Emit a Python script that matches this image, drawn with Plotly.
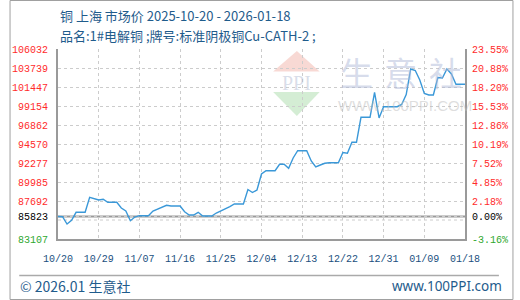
import plotly.graph_objects as go
import pandas as pd

# ---------------- data ----------------
dates = pd.date_range("2025-10-20", "2026-01-18", freq="D").strftime("%Y-%m-%d").tolist()
prices = [
    85823, 85800, 84917, 85350, 86330, 86330, 86330, 88140, 88020, 87810,
    87900, 87535, 87535, 87535, 86850, 86485, 85315, 85760, 85920, 85920,
    85920, 86485, 86727, 86884, 87173, 87089, 87089, 87089, 86401, 86003,
    86003, 86329, 85882, 85882, 85882, 86244, 86485, 86690, 87004, 87330,
    87330, 87330, 89080, 88718, 89019, 90950, 91348, 91348, 91348, 92120,
    92120, 91638, 92880, 93761, 93761, 93761, 92518, 91794, 92036, 92241,
    92313, 92313, 92313, 93544, 93448, 94775, 94775, 97793, 97793, 97793,
    100800, 97707, 99070, 99070, 99070, 99070, 99335, 100540, 103619, 103438,
    102292, 100661, 100480, 100480, 102593, 102533, 103619, 103016, 101773, 101773,
    101773,
]
base_price = 85823

x_tick_dates = ["2025-10-20", "2025-10-29", "2025-11-07", "2025-11-16", "2025-11-25",
                "2025-12-04", "2025-12-13", "2025-12-22", "2025-12-31", "2026-01-09",
                "2026-01-18"]
x_tick_labels = ["10/20", "10/29", "11/07", "11/16", "11/25", "12/04", "12/13",
                 "12/22", "12/31", "01/09", "01/18"]

y_min, y_max = 83107, 106032
y_tick_values = [83107, 85823, 87692, 89984.5, 92277, 94569.5, 96862, 99154.5,
                 101447, 103739.5, 106032]
y_tick_labels = ["83107", "85823", "87692", "89985", "92277", "94570", "96862",
                 "99154", "101447", "103739", "106032"]
pct_tick_labels = ["-3.16%", "0.00%", "2.18%", "4.85%", "7.52%", "10.19%", "12.86%",
                   "15.53%", "18.20%", "20.88%", "23.55%"]
extra_grid_value = 85399.5

title_line1 = "铜 上海 市场价 2025-10-20 - 2026-01-18"
title_line2 = "品名:1#电解铜 ;牌号:标准阴极铜Cu-CATH-2 ;"
footer_left = "© 2026.01 生意社"
footer_right = "www.100PPI.com"

# ---------------- styling helpers ----------------
W, H = 520, 300
PL, PR, PT, PB = 50, 470, 49, 239


def px(x):
    return (x - PL) / (PR - PL)


def py(y):
    return (PB - y) / (PB - PT)


RED = "#ff2b2b"
GREEN = "#2ea82e"
BLUE_TXT = "#1f5c8c"
GRID = "#cccccc"
AXIS = "#9a9a9a"


def colour_label(text, i):
    if i == 0:
        return f"<span style='color:{GREEN}'>{text}</span>"
    if i == 1:
        return f"<span style='color:#000000'>{text}</span>"
    return text


left_text = [colour_label(t, i) for i, t in enumerate(y_tick_labels)]
right_text = [colour_label(t, i) for i, t in enumerate(pct_tick_labels)]

fig = go.Figure()
fig.add_trace(go.Scatter(x=dates, y=prices, mode="lines",
                         line=dict(color="#3a98d8", width=1.4),
                         hoverinfo="skip", showlegend=False))
fig.add_trace(go.Scatter(x=dates, y=prices, mode="lines", yaxis="y2",
                         line=dict(color="rgba(0,0,0,0)", width=0),
                         hoverinfo="skip", showlegend=False))

mono = "Liberation Mono"
cjk = "Noto Sans CJK SC"

fig.update_layout(
    width=W, height=H,
    margin=dict(l=PL, r=W - PR, t=PT, b=H - PB, pad=0),
    paper_bgcolor="white", plot_bgcolor="white",
    xaxis=dict(
        type="date", range=[dates[0], dates[-1]],
        tickmode="array", tickvals=x_tick_dates, ticktext=x_tick_labels,
        showgrid=True, gridcolor=GRID, griddash="3px,3px", gridwidth=1,
        showline=True, linecolor=AXIS, linewidth=2,
        ticks="", ticklabelstandoff=9,
        tickfont=dict(family=mono, size=10, color="#1a4f80"),
        zeroline=False, fixedrange=True,
    ),
    yaxis=dict(
        range=[y_min, y_max],
        tickmode="array", tickvals=y_tick_values, ticktext=left_text,
        showgrid=True, gridcolor=GRID, griddash="3px,3px", gridwidth=1,
        showline=True, linecolor=AXIS, linewidth=2,
        ticks="", ticklabelstandoff=6,
        tickfont=dict(family=mono, size=10, color=RED),
        zeroline=False, fixedrange=True,
    ),
    yaxis2=dict(
        range=[y_min, y_max], overlaying="y", side="right",
        tickmode="array", tickvals=y_tick_values, ticktext=right_text,
        showgrid=False, showline=True, linecolor=AXIS, linewidth=2,
        ticks="", ticklabelstandoff=3,
        tickfont=dict(family=mono, size=10, color=RED),
        zeroline=False, fixedrange=True,
    ),
)

shapes = [
    dict(type="line", xref="paper", yref="y", x0=0, x1=1,
         y0=extra_grid_value, y1=extra_grid_value,
         line=dict(color=GRID, width=1, dash="3px,3px"), layer="below"),
    dict(type="line", xref="paper", yref="y", x0=0, x1=1,
         y0=base_price, y1=base_price,
         line=dict(color=AXIS, width=2), layer="below"),
    dict(type="line", xref="paper", yref="paper", x0=px(10), x1=px(505),
         y0=py(275.5), y1=py(275.5), line=dict(color="#aaaaaa", width=1.5)),
    dict(type="rect", xref="paper", yref="paper", x0=px(0.5), x1=px(519.5),
         y0=py(0.5), y1=py(299.5), line=dict(color="#a0a0a0", width=1)),
    dict(type="path", xref="paper", yref="paper", layer="below",
         path=f"M {px(296.5)} {py(51)} L {px(320)} {py(71.5)} L {px(272)} {py(71.5)} Z",
         fillcolor="rgba(240,170,160,0.45)", line=dict(width=0)),
    dict(type="path", xref="paper", yref="paper", layer="below",
         path=f"M {px(272)} {py(92)} L {px(320)} {py(92)} L {px(296.5)} {py(116)} Z",
         fillcolor="rgba(160,215,160,0.45)", line=dict(width=0)),
]
fig.update_layout(shapes=shapes)

annotations = [
    dict(text=title_line1, x=px(50), y=py(15), xanchor="left", yanchor="middle",
         font=dict(family=cjk, size=13, color=BLUE_TXT)),
    dict(text=title_line2, x=px(50), y=py(35), xanchor="left", yanchor="middle",
         font=dict(family=cjk, size=13, color=BLUE_TXT)),
    dict(text=footer_left, x=px(9), y=py(285.5), xanchor="left", yanchor="middle",
         font=dict(family=cjk, size=14, color=BLUE_TXT)),
    dict(text=footer_right, x=px(510), y=py(285.5), xanchor="right", yanchor="middle",
         font=dict(family="Noto Sans", size=13.5, color=BLUE_TXT)),
    dict(text="PPI", x=px(296), y=py(83), xanchor="center", yanchor="middle",
         font=dict(family="Liberation Serif", size=20, color="rgba(170,180,205,0.45)")),
    dict(text="生", x=px(358.5), y=py(72), xanchor="center", yanchor="middle",
         font=dict(family=cjk, size=33, color="rgba(175,185,215,0.5)")),
    dict(text="意", x=px(403.5), y=py(72), xanchor="center", yanchor="middle",
         font=dict(family=cjk, size=33, color="rgba(175,185,215,0.5)")),
    dict(text="社", x=px(450), y=py(72), xanchor="center", yanchor="middle",
         font=dict(family=cjk, size=33, color="rgba(175,185,215,0.5)")),
    dict(text="WWW.100PPI.COM", x=px(408), y=py(105), xanchor="center", yanchor="middle",
         font=dict(family="Liberation Sans", size=15, color="rgba(190,190,190,0.5)")),
]
for a in annotations:
    a.update(xref="paper", yref="paper", showarrow=False)
fig.update_layout(annotations=annotations)

fig.write_html("out.html", config={"displayModeBar": False, "staticPlot": True})
